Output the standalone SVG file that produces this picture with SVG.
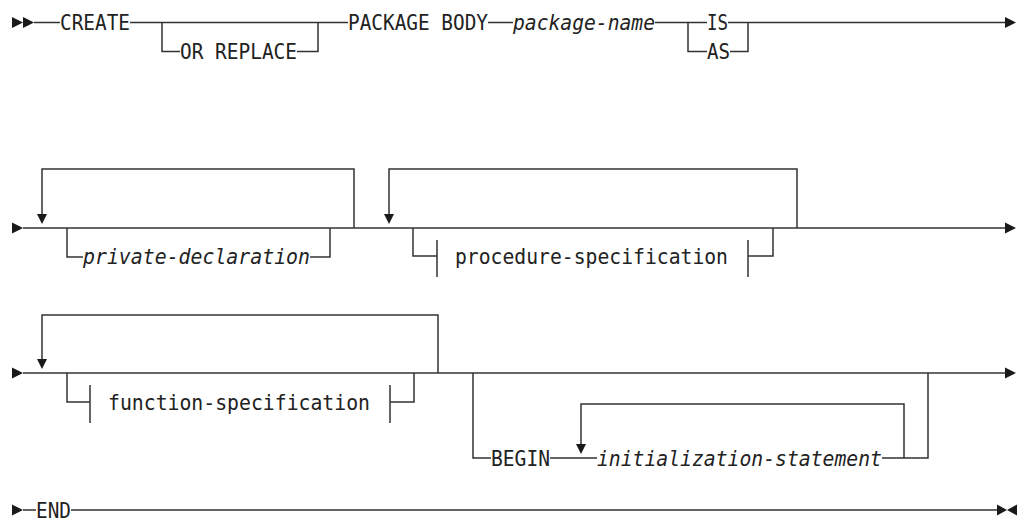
<svg xmlns="http://www.w3.org/2000/svg" width="1021" height="529" viewBox="0 0 1021 529">
<style>
.ln{fill:none;stroke:#333;stroke-width:1.5}
.ar{fill:#1a1a1a;stroke:none}
.t{font-family:"DejaVu Sans Mono","Liberation Mono",monospace;font-size:21px;fill:#222}
.i{font-style:italic}
</style>
<rect width="1021" height="529" fill="#fff"/>
<g id="connectors">
<path class="ln" d="M34,22.5H60M130,22.5H348M488,22.5H513M655,22.5H707M728,22.5H1006"/>
<path class="ln" d="M162,22.5V51.5H180M297,51.5H318V22.5"/>
<path class="ln" d="M688,22.5V51.5H707M730,51.5H748V22.5"/>
<path class="ln" d="M23,228H1006"/>
<path class="ln" d="M354,228V169H42V216"/>
<path class="ln" d="M67,228V257H83M310,257H330V228"/>
<path class="ln" d="M797,228V169H389V216"/>
<path class="ln" d="M413,228V256H437M437,240V277M748,240V277M748,256H773V228"/>
<path class="ln" d="M23,373H1006"/>
<path class="ln" d="M438,373V315H42V361"/>
<path class="ln" d="M67,373V402H90M90,385V423M390,385V423M390,402H414V373"/>
<path class="ln" d="M473,373V458H491M550,458H597M882,458H928V373"/>
<path class="ln" d="M904,458V404H581V446"/>
<path class="ln" d="M23,510H36M71,510H998"/>
<polygon class="ar" points="12,17 23,22.5 12,28"/>
<polygon class="ar" points="23,17 34,22.5 23,28"/>
<polygon class="ar" points="1005,17 1016,22.5 1005,28"/>
<polygon class="ar" points="12,222.5 23,228 12,233.5"/>
<polygon class="ar" points="1005,222.5 1016,228 1005,233.5"/>
<polygon class="ar" points="37,214 47,214 42,224"/>
<polygon class="ar" points="384,214 394,214 389,224"/>
<polygon class="ar" points="12,367.5 23,373 12,378.5"/>
<polygon class="ar" points="1005,367.5 1016,373 1005,378.5"/>
<polygon class="ar" points="37,359 47,359 42,369"/>
<polygon class="ar" points="576,444 586,444 581,454"/>
<polygon class="ar" points="12,504.5 23,510 12,515.5"/>
<polygon class="ar" points="997,504.5 1007,510 997,515.5"/>
<polygon class="ar" points="1017,504.5 1007,510 1017,515.5"/>
</g>
<g id="create"><text class="t" x="60" y="29.5" textLength="70" lengthAdjust="spacingAndGlyphs">CREATE</text></g>
<g id="or-replace"><text class="t" x="180" y="58.5" textLength="117" lengthAdjust="spacingAndGlyphs">OR REPLACE</text></g>
<g id="package-body"><text class="t" x="348" y="29.5" textLength="140" lengthAdjust="spacingAndGlyphs">PACKAGE BODY</text></g>
<g id="package-name"><text class="t i" x="513" y="29.5" textLength="142" lengthAdjust="spacingAndGlyphs">package-name</text></g>
<g id="is"><text class="t" x="707" y="29.5" textLength="21" lengthAdjust="spacingAndGlyphs">IS</text></g>
<g id="as"><text class="t" x="707" y="58.5" textLength="23" lengthAdjust="spacingAndGlyphs">AS</text></g>
<g id="private-declaration"><text class="t i" x="83" y="263.5" textLength="227" lengthAdjust="spacingAndGlyphs">private-declaration</text></g>
<g id="procedure-specification"><text class="t" x="455" y="263.5" textLength="273" lengthAdjust="spacingAndGlyphs">procedure-specification</text></g>
<g id="function-specification"><text class="t" x="108" y="409.5" textLength="262" lengthAdjust="spacingAndGlyphs">function-specification</text></g>
<g id="begin"><text class="t" x="491" y="465.5" textLength="59" lengthAdjust="spacingAndGlyphs">BEGIN</text></g>
<g id="initialization-statement"><text class="t i" x="597" y="465.5" textLength="285" lengthAdjust="spacingAndGlyphs">initialization-statement</text></g>
<g id="end"><text class="t" x="36" y="517.5" textLength="35" lengthAdjust="spacingAndGlyphs">END</text></g>
</svg>
